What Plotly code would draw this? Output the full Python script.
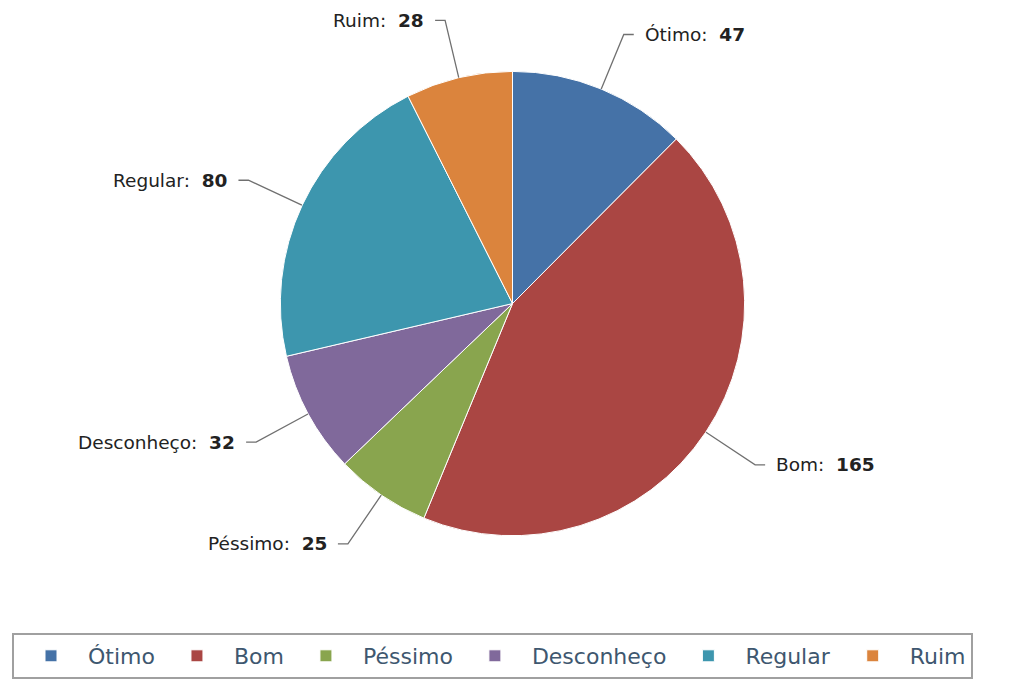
import math
import plotly.graph_objects as go

categories = ["Ótimo", "Bom", "Péssimo", "Desconheço", "Regular", "Ruim"]
values = [47, 165, 25, 32, 80, 28]
colors = ["#4572A7", "#AA4643", "#89A54E", "#80699B", "#3D96AE", "#DB843D"]

W, H = 1011, 679
CX, CY, R = 512.5, 304.0, 232.5      # pie centre / radius in pixels (from top-left)
BEND = R + 59                        # connector elbow distance
HSEG = 10                            # horizontal connector length
GAP = 9                              # gap between connector and label

fig = go.Figure(go.Pie(
    labels=categories,
    values=values,
    marker=dict(colors=colors, line=dict(color="#FFFFFF", width=1)),
    sort=False,
    direction="clockwise",
    rotation=0,
    textinfo="none",
    hoverinfo="label+value",
    domain=dict(x=[(CX - R) / W, (CX + R) / W],
                y=[(H - CY - R) / H, (H - CY + R) / H]),
))

def px(x):
    return x / W

def py(y):
    return 1 - y / H

total = sum(values)
shapes = []
annotations = []
cum = 0
for name, v in zip(categories, values):
    a = (cum + v / 2) / total * 2 * math.pi
    cum += v
    s, c = math.sin(a), math.cos(a)
    ex, ey = CX + R * s, CY - R * c
    bx, by = CX + BEND * s, CY - BEND * c
    d = 1 if s >= 0 else -1
    hx = bx + d * HSEG
    path = f"M {px(ex)} {py(ey)} L {px(bx)} {py(by)} L {px(hx)} {py(by)}"
    shapes.append(dict(type="path", xref="paper", yref="paper", path=path,
                       line=dict(color="#707070", width=1.3)))
    annotations.append(dict(
        xref="paper", yref="paper", x=px(hx + d * GAP), y=py(by),
        xanchor="left" if d > 0 else "right", yanchor="middle",
        text=f"{name}:\u00a0\u00a0<b>{v}</b>", showarrow=False,
        font=dict(family="DejaVu Sans", size=18.5, color="#222222"),
    ))

fig.update_layout(
    width=W, height=H,
    margin=dict(l=0, r=0, t=0, b=0),
    paper_bgcolor="#FFFFFF",
    plot_bgcolor="#FFFFFF",
    shapes=shapes,
    annotations=annotations,
    showlegend=True,
    legend=dict(
        orientation="h",
        x=12 / W, y=1 - 634 / H, xanchor="left", yanchor="top",
        bgcolor="#FFFFFF", bordercolor="#A0A0A0", borderwidth=2,
        itemwidth=64,
        font=dict(family="DejaVu Sans", size=22, color="#3E576F"),
    ),
)

fig.write_html("out.html")
